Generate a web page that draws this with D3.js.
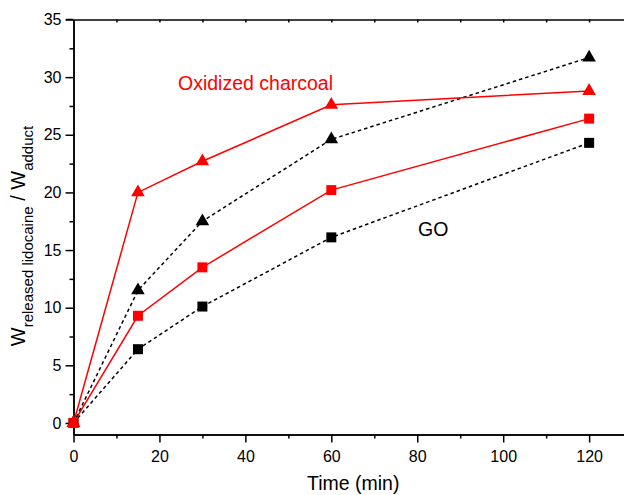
<!DOCTYPE html>
<html>
<head>
<meta charset="utf-8">
<script src="https://cdn.jsdelivr.net/npm/d3@7"></script>
<style>
  body { margin: 0; background: #fff; }
  text { font-family: "Liberation Sans", Arial, sans-serif; }
</style>
</head>
<body>
<div id="graph"></div>
<script>
var width = 624;
var height = 495;

// data
var times = [0, 15, 30, 60, 120];
var charcoalTriangles = [0, 20.0, 22.7, 27.6, 28.8];
var goTriangles = [0, 11.5, 17.5, 24.6, 31.7];
var charcoalSquares = [0, 9.3, 13.5, 20.2, 26.4];
var goSquares = [0, 6.4, 10.1, 16.1, 24.3];

var yTicks = [0, 5, 10, 15, 20, 25, 30, 35];
var xTicks = [0, 20, 40, 60, 80, 100, 120];

var series = [
  { values: goSquares, color: "black", dash: "3.5,3", shape: d3.symbolSquare, size: 100 },
  { values: charcoalSquares, color: "#ff0000", dash: null, shape: d3.symbolSquare, size: 100 },
  { values: goTriangles, color: "black", dash: "3.5,3", shape: d3.symbolTriangle, size: 80 },
  { values: charcoalTriangles, color: "#ff0000", dash: null, shape: d3.symbolTriangle, size: 80 }
];

var svg = d3.select("#graph")
  .append("svg")
  .attr("width", width)
  .attr("height", height);

var xScale = d3.scaleLinear().domain([0, 128]).range([73.5, 623.5]);
var yScale = d3.scaleLinear().domain([-1, 35]).range([434.5, 19.5]);

function styleAxis(g) {
  g.select(".domain").attr("stroke", "black").attr("stroke-width", 1.5);
  g.selectAll(".tick line").attr("stroke", "black").attr("stroke-width", 1.5);
  g.selectAll(".tick text")
    .attr("font-size", 16)
    .attr("fill", "black")
    .attr("font-family", "Liberation Sans, Arial, sans-serif");
}

// minor ticks first so the major ones sit on top
svg.append("g")
  .attr("transform", "translate(73.5,0)")
  .call(d3.axisLeft(yScale).tickValues(d3.range(2.5, 35, 5)).tickSize(4).tickSizeOuter(0).tickFormat(""))
  .call(styleAxis);

svg.append("g")
  .attr("transform", "translate(73.5,0)")
  .call(d3.axisLeft(yScale).tickValues(yTicks).tickSize(8).tickPadding(4).tickSizeOuter(0))
  .call(styleAxis);

svg.append("g")
  .attr("transform", "translate(0,434.5)")
  .call(d3.axisBottom(xScale).tickValues(d3.range(10, 130, 20)).tickSize(4).tickSizeOuter(0).tickFormat(""))
  .call(styleAxis);

svg.append("g")
  .attr("transform", "translate(0,434.5)")
  .call(d3.axisBottom(xScale).tickValues(xTicks).tickSize(8).tickPadding(8).tickSizeOuter(0))
  .call(styleAxis);

// top frame with small inward ticks
svg.append("g")
  .attr("transform", "translate(0,19.5)")
  .call(d3.axisBottom(xScale).tickValues(d3.range(10, 130, 10)).tickSize(3).tickSizeOuter(0).tickFormat(""))
  .call(styleAxis);
svg.append("line")
  .attr("x1", 66).attr("x2", 73.5)
  .attr("y1", 19.5).attr("y2", 19.5)
  .attr("stroke", "black").attr("stroke-width", 1.5);

// lines and markers
var line = d3.line()
  .x(function (d, i) { return xScale(times[i]); })
  .y(function (d) { return yScale(d); });

series.forEach(function (s) {
  svg.append("path")
    .datum(s.values)
    .attr("d", line)
    .attr("fill", "none")
    .attr("stroke", s.color)
    .attr("stroke-width", 1.5)
    .attr("stroke-dasharray", s.dash);
});

series.forEach(function (s) {
  svg.selectAll(null)
    .data(s.values)
    .enter()
    .append("path")
    .attr("d", d3.symbol().type(s.shape).size(s.size))
    .attr("transform", function (d, i) {
      return "translate(" + xScale(times[i]) + "," + yScale(d) + ")";
    })
    .attr("fill", s.color);
});

// annotations
svg.append("text")
  .attr("x", 178).attr("y", 90)
  .attr("font-size", 19.5)
  .attr("fill", "#ff0000")
  .text("Oxidized charcoal");

svg.append("text")
  .attr("x", 418).attr("y", 236)
  .attr("font-size", 19.5)
  .attr("fill", "black")
  .text("GO");

svg.append("text")
  .attr("x", 307).attr("y", 490)
  .attr("font-size", 19.5)
  .attr("fill", "black")
  .text("Time (min)");

// y label with subscripts
var yLabel = svg.append("text")
  .attr("transform", "translate(25,236) rotate(-90)")
  .attr("text-anchor", "middle")
  .attr("font-size", 20)
  .attr("fill", "black");
yLabel.append("tspan").text("W");
yLabel.append("tspan").attr("font-size", 15).attr("dy", 7.5).text("released lidocaine");
yLabel.append("tspan").attr("dy", -7.5).text(" / W");
yLabel.append("tspan").attr("font-size", 15).attr("dy", 7.5).text("adduct");
</script>
</body>
</html>
